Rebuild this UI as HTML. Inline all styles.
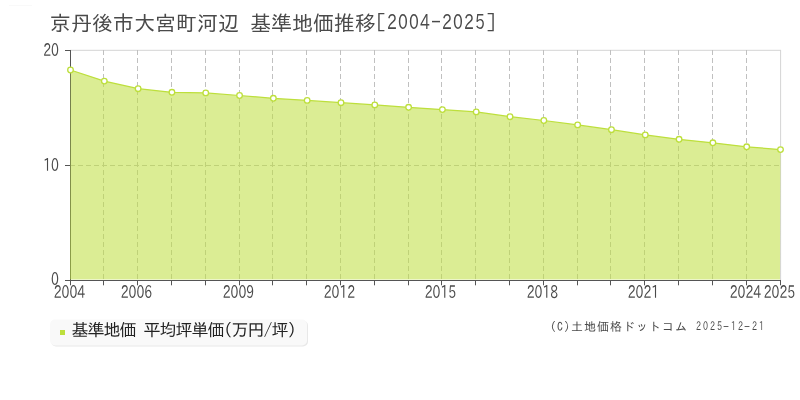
<!DOCTYPE html>
<html><head><meta charset="utf-8"><style>
html,body{margin:0;padding:0;background:#fff;width:800px;height:400px;overflow:hidden}
svg{display:block}
text{font-family:"IPAGothic","Liberation Sans",sans-serif}
.d text,.p{font-family:"IPAPGothic","IPAGothic","Liberation Sans",sans-serif}
</style></head><body>
<svg width="800" height="400" viewBox="0 0 800 400">
<rect width="800" height="400" fill="#fff"/>
<line x1="9" y1="5.5" x2="32" y2="5.5" stroke="#f9f9f9" stroke-width="1"/>
<g stroke="#d4d4d4" stroke-width="1" fill="none">
<line x1="70" y1="50.3" x2="781" y2="50.3"/>
<line x1="780.6" y1="50" x2="780.6" y2="280"/>
</g>
<g stroke="#c0c0c0" stroke-width="1" stroke-dasharray="5,3" fill="none">
<line x1="103.5" y1="50" x2="103.5" y2="280"/><line x1="137.5" y1="50" x2="137.5" y2="280"/><line x1="171.5" y1="50" x2="171.5" y2="280"/><line x1="205.5" y1="50" x2="205.5" y2="280"/><line x1="239.5" y1="50" x2="239.5" y2="280"/><line x1="272.5" y1="50" x2="272.5" y2="280"/><line x1="306.5" y1="50" x2="306.5" y2="280"/><line x1="340.5" y1="50" x2="340.5" y2="280"/><line x1="374.5" y1="50" x2="374.5" y2="280"/><line x1="408.5" y1="50" x2="408.5" y2="280"/><line x1="441.5" y1="50" x2="441.5" y2="280"/><line x1="475.5" y1="50" x2="475.5" y2="280"/><line x1="509.5" y1="50" x2="509.5" y2="280"/><line x1="543.5" y1="50" x2="543.5" y2="280"/><line x1="577.5" y1="50" x2="577.5" y2="280"/><line x1="610.5" y1="50" x2="610.5" y2="280"/><line x1="644.5" y1="50" x2="644.5" y2="280"/><line x1="678.5" y1="50" x2="678.5" y2="280"/><line x1="712.5" y1="50" x2="712.5" y2="280"/><line x1="746.5" y1="50" x2="746.5" y2="280"/>
<line x1="70" y1="165.5" x2="780" y2="165.5"/>
</g>
<g stroke="#555" stroke-width="1" fill="none">
<line x1="70.5" y1="50" x2="70.5" y2="280"/>
<line x1="65" y1="50.5" x2="70" y2="50.5"/>
<line x1="65" y1="165.5" x2="70" y2="165.5"/>
<line x1="65" y1="280.5" x2="781" y2="280.5"/>
<line x1="70.5" y1="280" x2="70.5" y2="285.3"/><line x1="103.5" y1="280" x2="103.5" y2="285.3"/><line x1="137.5" y1="280" x2="137.5" y2="285.3"/><line x1="171.5" y1="280" x2="171.5" y2="285.3"/><line x1="205.5" y1="280" x2="205.5" y2="285.3"/><line x1="239.5" y1="280" x2="239.5" y2="285.3"/><line x1="272.5" y1="280" x2="272.5" y2="285.3"/><line x1="306.5" y1="280" x2="306.5" y2="285.3"/><line x1="340.5" y1="280" x2="340.5" y2="285.3"/><line x1="374.5" y1="280" x2="374.5" y2="285.3"/><line x1="408.5" y1="280" x2="408.5" y2="285.3"/><line x1="441.5" y1="280" x2="441.5" y2="285.3"/><line x1="475.5" y1="280" x2="475.5" y2="285.3"/><line x1="509.5" y1="280" x2="509.5" y2="285.3"/><line x1="543.5" y1="280" x2="543.5" y2="285.3"/><line x1="577.5" y1="280" x2="577.5" y2="285.3"/><line x1="610.5" y1="280" x2="610.5" y2="285.3"/><line x1="644.5" y1="280" x2="644.5" y2="285.3"/><line x1="678.5" y1="280" x2="678.5" y2="285.3"/><line x1="712.5" y1="280" x2="712.5" y2="285.3"/><line x1="746.5" y1="280" x2="746.5" y2="285.3"/><line x1="780.5" y1="280" x2="780.5" y2="285.3"/>
</g>
<path d="M70,279.5 L70.50,70.00 L104.31,81.10 L138.12,88.70 L171.93,92.30 L205.74,92.90 L239.55,95.50 L273.36,98.30 L307.17,100.40 L340.98,102.70 L374.79,104.90 L408.60,107.30 L442.40,109.60 L476.21,111.90 L510.02,116.70 L543.83,120.50 L577.64,124.90 L611.45,129.70 L645.26,134.90 L679.07,139.30 L712.88,142.80 L746.69,146.80 L780.50,149.60 L780,279.5 Z" fill="#bddf3c" fill-opacity="0.55"/>
<polyline points="70.50,70.00 104.31,81.10 138.12,88.70 171.93,92.30 205.74,92.90 239.55,95.50 273.36,98.30 307.17,100.40 340.98,102.70 374.79,104.90 408.60,107.30 442.40,109.60 476.21,111.90 510.02,116.70 543.83,120.50 577.64,124.90 611.45,129.70 645.26,134.90 679.07,139.30 712.88,142.80 746.69,146.80 780.50,149.60" fill="none" stroke="#bddf3c" stroke-width="1.25" stroke-linejoin="round"/>
<g fill="#fff" stroke="#bddf3c" stroke-width="1.3"><circle cx="70.50" cy="70.00" r="2.8"/><circle cx="104.31" cy="81.10" r="2.8"/><circle cx="138.12" cy="88.70" r="2.8"/><circle cx="171.93" cy="92.30" r="2.8"/><circle cx="205.74" cy="92.90" r="2.8"/><circle cx="239.55" cy="95.50" r="2.8"/><circle cx="273.36" cy="98.30" r="2.8"/><circle cx="307.17" cy="100.40" r="2.8"/><circle cx="340.98" cy="102.70" r="2.8"/><circle cx="374.79" cy="104.90" r="2.8"/><circle cx="408.60" cy="107.30" r="2.8"/><circle cx="442.40" cy="109.60" r="2.8"/><circle cx="476.21" cy="111.90" r="2.8"/><circle cx="510.02" cy="116.70" r="2.8"/><circle cx="543.83" cy="120.50" r="2.8"/><circle cx="577.64" cy="124.90" r="2.8"/><circle cx="611.45" cy="129.70" r="2.8"/><circle cx="645.26" cy="134.90" r="2.8"/><circle cx="679.07" cy="139.30" r="2.8"/><circle cx="712.88" cy="142.80" r="2.8"/><circle cx="746.69" cy="146.80" r="2.8"/><circle cx="780.50" cy="149.60" r="2.8"/></g>
<rect x="51" y="320.5" width="257" height="26" rx="5" fill="#e8e8e8"/>
<rect x="50" y="319.5" width="257" height="26" rx="5" fill="#f9f9f9"/>
<rect x="60" y="330" width="5" height="5" fill="#bddf3c"/>
<g opacity="0.999">
<text x="50" y="30.5" font-size="21" fill="#4a4a4a">京丹後市大宮町河辺 <tspan x="250.0">基準地価推移</tspan><tspan x="376" y="30.4" font-size="20">[</tspan><tspan class="p" x="387.09" y="29" font-size="20" letter-spacing="1.5" textLength="44" lengthAdjust="spacingAndGlyphs">2004</tspan><tspan x="431" y="29.3" font-size="20">-</tspan><tspan class="p" x="442.09" y="29" font-size="20" letter-spacing="1.5" textLength="44" lengthAdjust="spacingAndGlyphs">2025</tspan><tspan x="486" y="30.4" font-size="20">]</tspan></text>
<g class="d" font-size="17.5" fill="#4a4a4a" text-anchor="end">
<text transform="translate(59,56) scale(0.715,1)">20</text>
<text transform="translate(59,171) scale(0.715,1)">10</text>
<text transform="translate(59,284.6) scale(0.715,1)">0</text>
</g>
<g class="d" font-size="17.5" fill="#4a4a4a" text-anchor="middle"><text transform="translate(69.5,298) scale(0.715,1)">2004</text><text transform="translate(136.5,298) scale(0.715,1)">2006</text><text transform="translate(238.5,298) scale(0.715,1)">2009</text><text transform="translate(339.5,298) scale(0.715,1)">2012</text><text transform="translate(440.5,298) scale(0.715,1)">2015</text><text transform="translate(542.5,298) scale(0.715,1)">2018</text><text transform="translate(643.5,298) scale(0.715,1)">2021</text><text transform="translate(745.5,298) scale(0.715,1)">2024</text><text transform="translate(779.5,298) scale(0.715,1)">2025</text></g>
<text x="71.50 87.50 103.50 119.50 135.75 143.50 159.50 175.50 191.50 207.50 223.75 231.50 247.50 263.75 271.50 287.75" y="336.3" font-size="17" fill="#222">基準地価 平均坪単価(万円/坪)</text>
<text x="550" y="330.6" font-size="12" letter-spacing="1" fill="#4a4a4a">(C)土地価格ドットコム <tspan class="p" x="695.99" y="330.1" letter-spacing="3" textLength="28" lengthAdjust="spacingAndGlyphs">2025</tspan><tspan x="723" y="330.6">-</tspan><tspan class="p" x="730.99" y="330.1" letter-spacing="3" textLength="14" lengthAdjust="spacingAndGlyphs">12</tspan><tspan x="744" y="330.6">-</tspan><tspan class="p" x="751.99" y="330.1" letter-spacing="3" textLength="14" lengthAdjust="spacingAndGlyphs">21</tspan></text>
</g>
</svg>
</body></html>
